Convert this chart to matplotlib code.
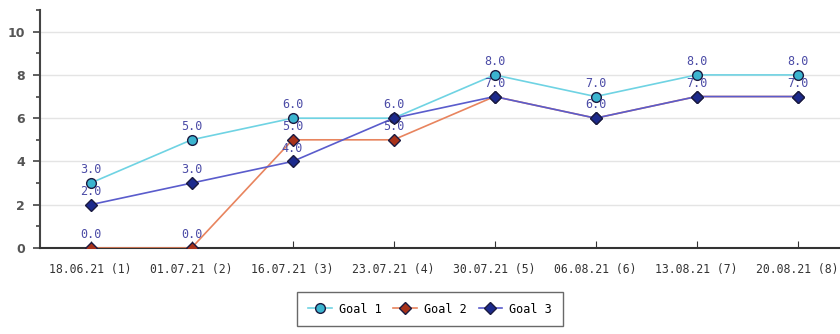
import matplotlib
matplotlib.use("Agg")
import matplotlib.pyplot as plt
from matplotlib.ticker import MultipleLocator

categories = ["18.06.21 (1)", "01.07.21 (2)", "16.07.21 (3)", "23.07.21 (4)",
              "30.07.21 (5)", "06.08.21 (6)", "13.08.21 (7)", "20.08.21 (8)"]
goal1 = [3, 5, 6, 6, 8, 7, 8, 8]
goal2 = [0, 0, 5, 5, 7, 6, 7, 7]
goal3 = [2, 3, 4, 6, 7, 6, 7, 7]

series = [
    ("Goal 1", goal1, "#6fd3e3", "#3bb4cf", "o"),
    ("Goal 2", goal2, "#e8845e", "#a8321a", "D"),
    ("Goal 3", goal3, "#5a5ccc", "#1c2a8c", "D"),
]

mono = "DejaVu Sans Mono"
fig = plt.figure(figsize=(8.4, 3.34), dpi=100)
ax = fig.add_axes([40 / 840, 86 / 334, 800 / 840, 238 / 334])

x = list(range(len(categories)))
labelled = set()
for i, (name, vals, lc, mc, mk) in enumerate(series):
    ax.plot(x, vals, color=lc, lw=1.2, marker=mk, ms=7 if mk == "o" else 6.5,
            mfc=mc, mec="#1a1a40", mew=1.0, label=name, zorder=3 + i)
    for xi, v in zip(x, vals):
        # identical labels on the same spot would just stack up
        if (xi, v) in labelled:
            continue
        labelled.add((xi, v))
        ax.annotate(f"{v:.1f}", (xi, v), xytext=(0, 5), textcoords="offset points",
                    ha="center", va="bottom", fontsize=8.5, family=mono,
                    color="#4b4ba6", zorder=10)

ax.set_xlim(-0.5, 7.42)
ax.set_ylim(0, 11)
ax.yaxis.set_minor_locator(MultipleLocator(1))
ax.set_yticks([0, 2, 4, 6, 8, 10])
ax.grid(axis="y", color="#e4e4e4", lw=1)
ax.set_axisbelow(True)

ax.set_xticks(x)
ax.set_xticklabels(categories, family=mono, fontsize=8.3, color="#333333")
ax.tick_params(axis="x", direction="in", length=5, color="#333333", pad=11)
ax.tick_params(axis="y", which="major", length=5, width=1.2, color="#444444",
               labelsize=9, labelcolor="#555555", pad=6)
ax.tick_params(axis="y", which="minor", length=3, width=1.2, color="#444444")
for lbl in ax.get_yticklabels():
    lbl.set_fontweight("bold")

for s in ("top", "right"):
    ax.spines[s].set_visible(False)
ax.spines["left"].set_color("#444444")
ax.spines["left"].set_linewidth(1.5)
ax.spines["bottom"].set_color("#333333")
ax.spines["bottom"].set_linewidth(1.5)

leg = ax.legend(loc="upper center", bbox_to_anchor=(0.4875, -0.16), ncol=3,
                frameon=True, fancybox=False, prop={"family": mono, "size": 8.5},
                handlelength=2.0, handletextpad=0.6, columnspacing=1.0,
                borderpad=0.9)
leg.get_frame().set_edgecolor("#444444")
leg.get_frame().set_linewidth(1.0)

fig.savefig("out.png", dpi=100)
